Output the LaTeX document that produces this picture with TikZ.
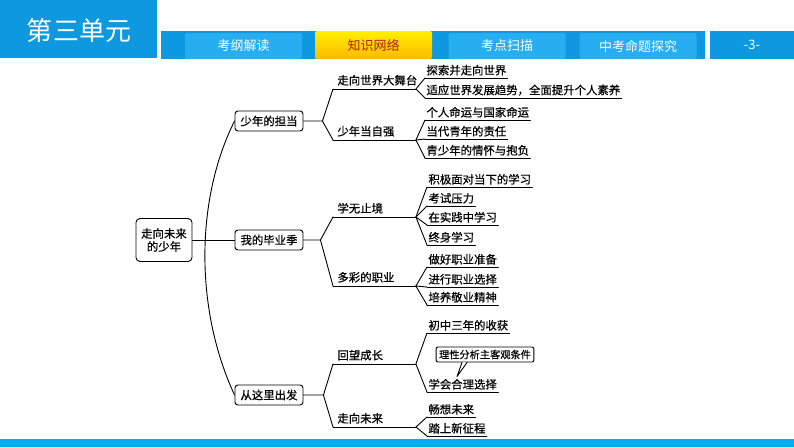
\documentclass[tikz,border=0pt]{standalone}
\usepackage{fontspec}
\setmainfont{Noto Sans CJK SC}
\newfontfamily\mapfont{Noto Sans CJK SC}[FakeBold=0.6]
\usetikzlibrary{positioning}
\definecolor{headblue}{RGB}{14,152,224}
\definecolor{tabblue}{RGB}{38,174,240}
\definecolor{tabyellow}{RGB}{255,240,0}
\definecolor{taborange}{RGB}{255,184,0}
\definecolor{tabred}{RGB}{176,30,10}
\definecolor{barcyan}{RGB}{0,174,240}
\begin{document}
\begin{tikzpicture}[
		x=1pt,y=-1pt,
		line cap=round,
		line join=round,
		line width=0.9pt,
		every node/.style={font=\mapfont\fontsize{11.4}{13}\selectfont},
		topic/.style={draw,rounded corners=3pt,minimum width=68pt,minimum height=20pt,inner sep=1pt},
		uline/.style={append after command={(\tikzlastnode.south west) edge (\tikzlastnode.south east)}},
		sub/.style={uline,anchor=south west,text width=74pt,align=left,inner xsep=4pt,inner ysep=3pt},
		leaf/.style={uline,anchor=south west,inner xsep=1pt,inner ysep=2pt},
		tab/.style={minimum width=117pt,minimum height=26pt,rounded corners=2pt,text=white,font=\normalfont\fontsize{13}{15}\selectfont}
		]
		\useasboundingbox (0,0) rectangle (794,447);
		\fill[white] (0,0) rectangle (794,447);
		\begin{scope}
		\fill[headblue] (0,0) rectangle (157,58);
		\node[text=white,font=\normalfont\fontsize{26}{28}\selectfont] (unit) at (79,31) {第三单元};
		\fill[headblue] (161,31) rectangle (705,59);
		\node[tab,fill=tabblue] (k1) at (243.5,46) {考纲解读};
		\node[tab,minimum height=28pt,top color=tabyellow,bottom color=taborange,text=tabred] (k2) at (373.5,45) {知识网络};
		\node[tab,fill=tabblue] (k3) at (507,46) {考点扫描};
		\node[tab,fill=tabblue] (k4) at (638,46) {中考命题探究};
		\fill[headblue] (710,31) rectangle (794,59);
		\node[text=white,font=\normalfont\fontsize{13}{15}\selectfont] (pg) at (752,45) {-3-};
		\fill[barcyan] (0,439) rectangle (794,447);
		\end{scope}
		\node[draw,rounded corners=4pt,minimum width=56pt,minimum height=43pt,align=center,inner sep=1pt] (root) at (164,240) {走向未来\\的少年};
		\node[topic] (t1) at (269,121) {少年的担当};
		\node[topic] (t2) at (269,240) {我的毕业季};
		\node[topic] (t3) at (269,395) {从这里出发};
		\coordinate (f1) at ([xshift=19pt]t1.east);
		\coordinate (f2) at ([xshift=17pt]t2.east);
		\coordinate (f3) at ([xshift=20pt]t3.east);
		\node[sub] (s1) at (333,89) {走向世界大舞台};
		\node[sub] (s2) at (333,140) {少年当自强};
		\node[sub] (s3) at (333,217) {学无止境};
		\node[sub] (s4) at (333,286) {多彩的职业};
		\node[sub] (s5) at (333,364) {回望成长};
		\node[sub] (s6) at (333,427) {走向未来};
		\node[leaf] (l1) at (425,78) {探索并走向世界};
		\node[leaf] (l2) at (425,98) {适应世界发展趋势，全面提升个人素养};
		\node[leaf] (l3) at (425,120) {个人命运与国家命运};
		\node[leaf] (l4) at (425,139) {当代青年的责任};
		\node[leaf] (l5) at (425,158) {青少年的情怀与抱负};
		\node[leaf] (l6) at (427,187) {积极面对当下的学习};
		\node[leaf] (l7) at (427,206) {考试压力};
		\node[leaf] (l8) at (427,225) {在实践中学习};
		\node[leaf] (l9) at (427,245) {终身学习};
		\node[leaf] (l10) at (427,267) {做好职业准备};
		\node[leaf] (l11) at (427,287) {进行职业选择};
		\node[leaf] (l12) at (427,305) {培养敬业精神};
		\node[leaf] (l13) at (427,333) {初中三年的收获};
		\node[leaf] (l14) at (427,392) {学会合理选择};
		\node[leaf] (l15) at (427,417) {畅想未来};
		\node[leaf] (l16) at (427,436) {踏上新征程};
		\node[draw,rounded corners=2pt,minimum height=15pt,inner xsep=3pt,inner ysep=1pt,font=\mapfont\fontsize{10.2}{12}\selectfont] (note) at (485,354.5) {理性分析主客观条件};
		\coordinate (tip) at ([xshift=30pt]l14.north west);
		\draw (root.east) -- (t2.west);
		\draw (t1.west) .. controls (195,200) and (195,310) .. (t3.west);
		\foreach \t/\f/\a/\b in {t1/f1/s1/s2,t2/f2/s3/s4,t3/f3/s5/s6}
			\draw (\t.east) -- (\f) -- (\a.south west) (\f) -- (\b.south west);
		\foreach \s/\l in {s1/l1,s1/l2,s2/l3,s2/l4,s2/l5,s3/l6,s3/l7,s3/l8,s3/l9,s4/l10,s4/l11,s4/l12,s5/l13,s5/l14,s6/l15,s6/l16}
			\draw (\s.south east) -- (\l.south west);
		\draw[fill=white] ([xshift=-23pt]note.south) -- (tip) -- ([xshift=-18pt]note.south);
		\end{tikzpicture}
\end{document}
